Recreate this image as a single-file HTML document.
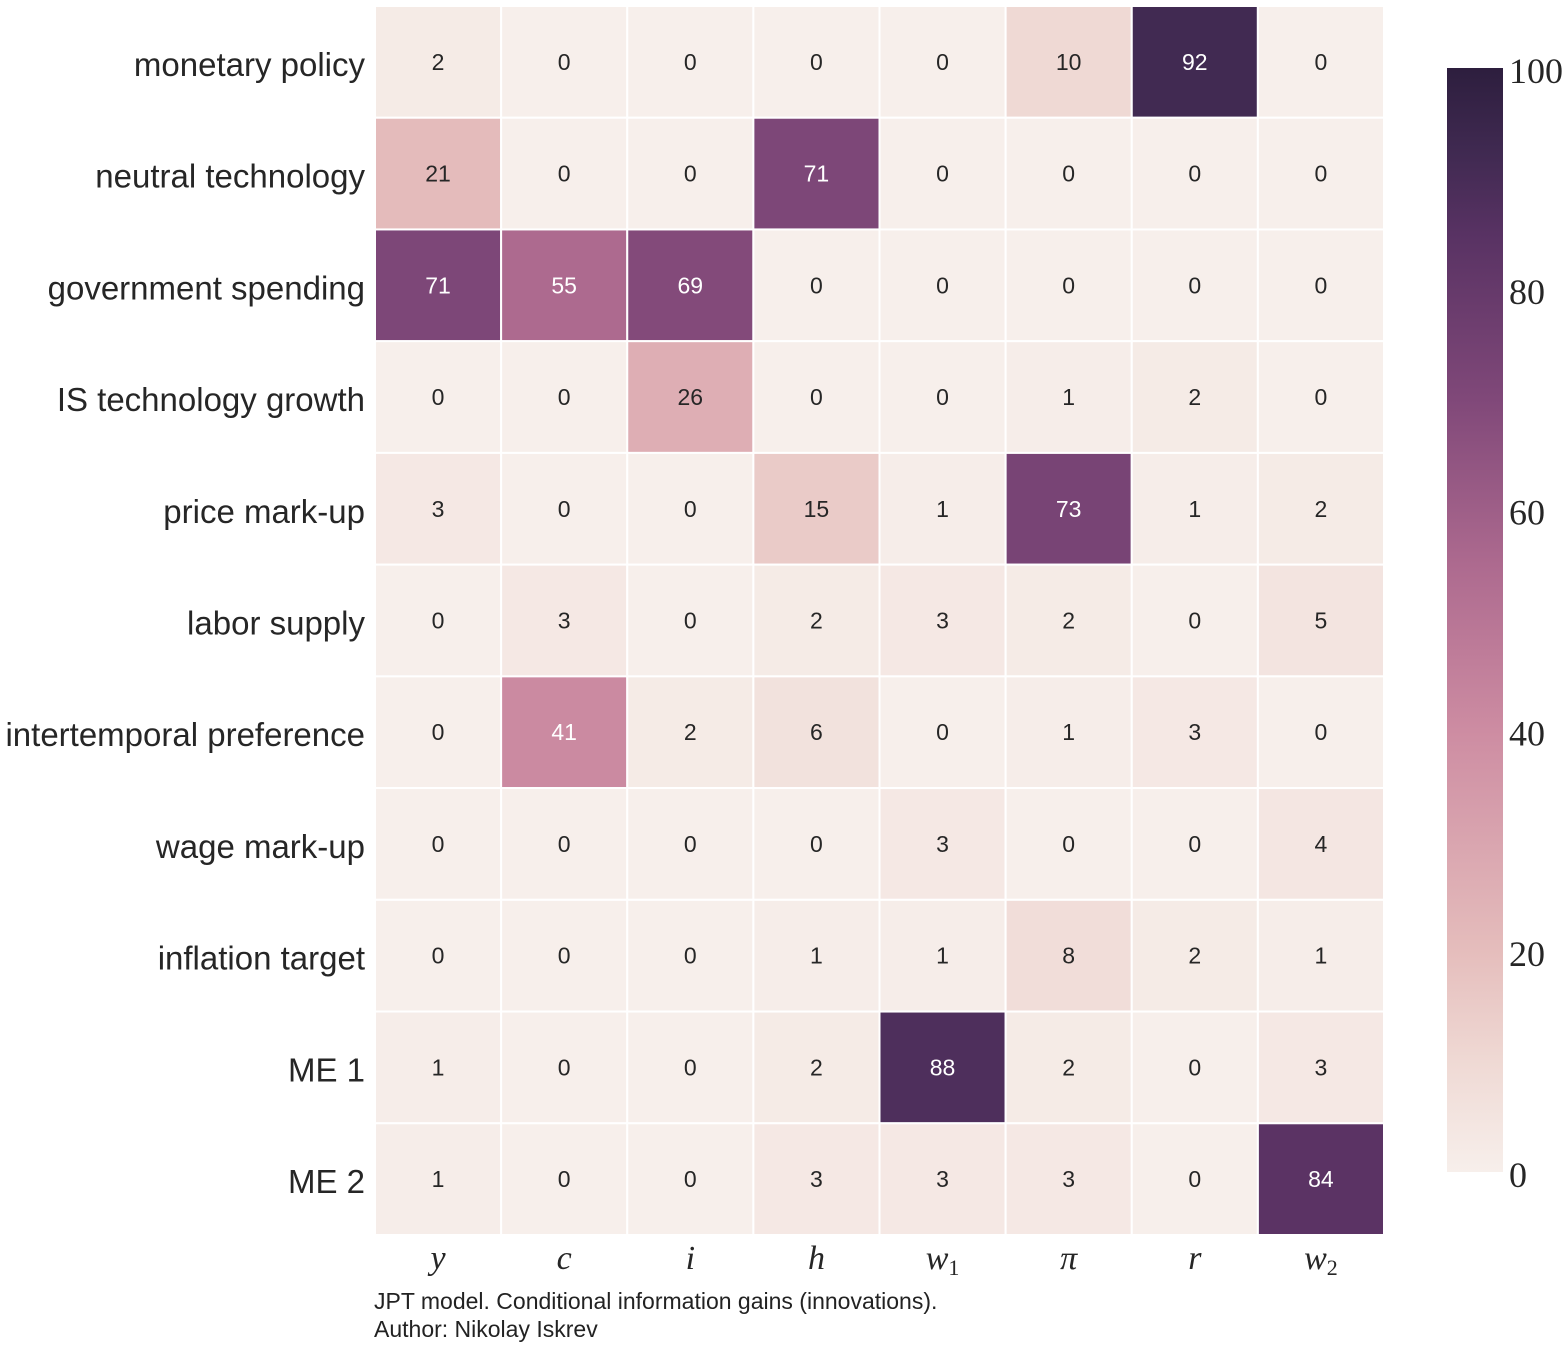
<!DOCTYPE html>
<html><head><meta charset="utf-8"><style>
body{margin:0;background:#fff;width:1568px;height:1347px;overflow:hidden}
svg{display:block}
</style></head><body>
<svg id="chart" width="1568" height="1347" xmlns="http://www.w3.org/2000/svg">
<defs><linearGradient id="cbg" x1="0" y1="1" x2="0" y2="0"></linearGradient></defs>
<g id="cells"></g>
<g id="ylabels"></g>
<g id="xlabels"></g>
<g id="cbar"></g>
<text x="374" y="1309" font-family="Liberation Sans, sans-serif" font-size="23" fill="#222">JPT model. Conditional information gains (innovations).</text>
<text x="374" y="1337" font-family="Liberation Sans, sans-serif" font-size="23" fill="#222">Author: Nikolay Iskrev</text>
</svg>
<script>
const rows = ["monetary policy","neutral technology","government spending","IS technology growth","price mark-up","labor supply","intertemporal preference","wage mark-up","inflation target","ME 1","ME 2"];
const cols = ["y","c","i","h","w1","π","r","w2"];
const values = [
[2,0,0,0,0,10,92,0],
[21,0,0,71,0,0,0,0],
[71,55,69,0,0,0,0,0],
[0,0,26,0,0,1,2,0],
[3,0,0,15,1,73,1,2],
[0,3,0,2,3,2,0,5],
[0,41,2,6,0,1,3,0],
[0,0,0,0,3,0,0,4],
[0,0,0,1,1,8,2,1],
[1,0,0,2,88,2,0,3],
[1,0,0,3,3,3,0,84]];
const cbTicks = [0,20,40,60,80,100];
const NS="http://www.w3.org/2000/svg";
const stops=[[0,[247,239,235]],[10,[239,217,212]],[20,[229,189,188]],[40,[205,140,162]],[55,[173,106,143]],[70,[128,72,121]],[85,[88,50,99]],[92,[65,42,82]],[100,[45,30,62]]];
function color(v){for(let k=1;k<stops.length;k++){if(v<=stops[k][0]){const a=stops[k-1],b=stops[k],t=(v-a[0])/(b[0]-a[0]);return `rgb(${a[1].map((c,j)=>Math.round(c+(b[1][j]-c)*t)).join(',')})`;}}return 'rgb(45,30,62)';}
const x0=375,x1=1384,y0=6,y1=1235;
const cw=(x1-x0)/cols.length, ch=(y1-y0)/rows.length;
const xs=i=>x0+i*cw, ys=j=>y0+j*ch;
function el(tag,attrs,parent,txt){const e=document.createElementNS(NS,tag);for(const k in attrs)e.setAttribute(k,attrs[k]);if(txt!==undefined)e.textContent=txt;parent.appendChild(e);return e;}
const gc=document.getElementById('cells');
values.forEach((row,j)=>row.forEach((v,i)=>{
 const r=el('rect',{x:xs(i),y:ys(j),width:cw,height:ch,fill:color(v),stroke:'#fff','stroke-width':2},gc);
 
 
 const t=el('text',{x:xs(i)+cw/2,y:ys(j)+ch/2+8,'text-anchor':'middle','font-family':'Liberation Sans, sans-serif','font-size':23,fill:v>=35?'#fff':'#262626'},gc,v);
 
 
}));
const gy=document.getElementById('ylabels');
rows.forEach((r,j)=>{const t=el('text',{x:365,y:ys(j)+ch/2+14,'text-anchor':'end','font-family':'Liberation Sans, sans-serif','font-size':33,fill:'#262626'},gy,r);
 
 });
const gx=document.getElementById('xlabels');
cols.forEach((c,i)=>{const t=el('text',{x:xs(i)+cw/2,y:1269,'text-anchor':'middle','font-family':'Liberation Serif, serif','font-size':34,'font-style':'italic',fill:'#262626'},gx);
 
 
 if(c.length===2&&c[0]==='w'){t.textContent='w';el('tspan',{'font-size':22,dy:6,'font-style':'normal'},t,c[1]);}else t.textContent=c;});
const grad=document.getElementById('cbg');
stops.forEach(s=>el('stop',{offset:s[0]/100,'stop-color':color(s[0])},grad));
const gb=document.getElementById('cbar');
const cbx=1447,cbw=56,cby0=1172,cby1=68;
const cy=v=>cby0+(cby1-cby0)*v/100;
el('rect',{x:cbx,y:cby1,width:cbw,height:cby0-cby1,fill:'url(#cbg)'},gb);
cbTicks.forEach(v=>{const t=el('text',{x:1509,y:cy(v)+15,'font-family':'Liberation Serif, serif','font-size':36,fill:'#262626'},gb,v);
 
 });
</script>
</body></html>
